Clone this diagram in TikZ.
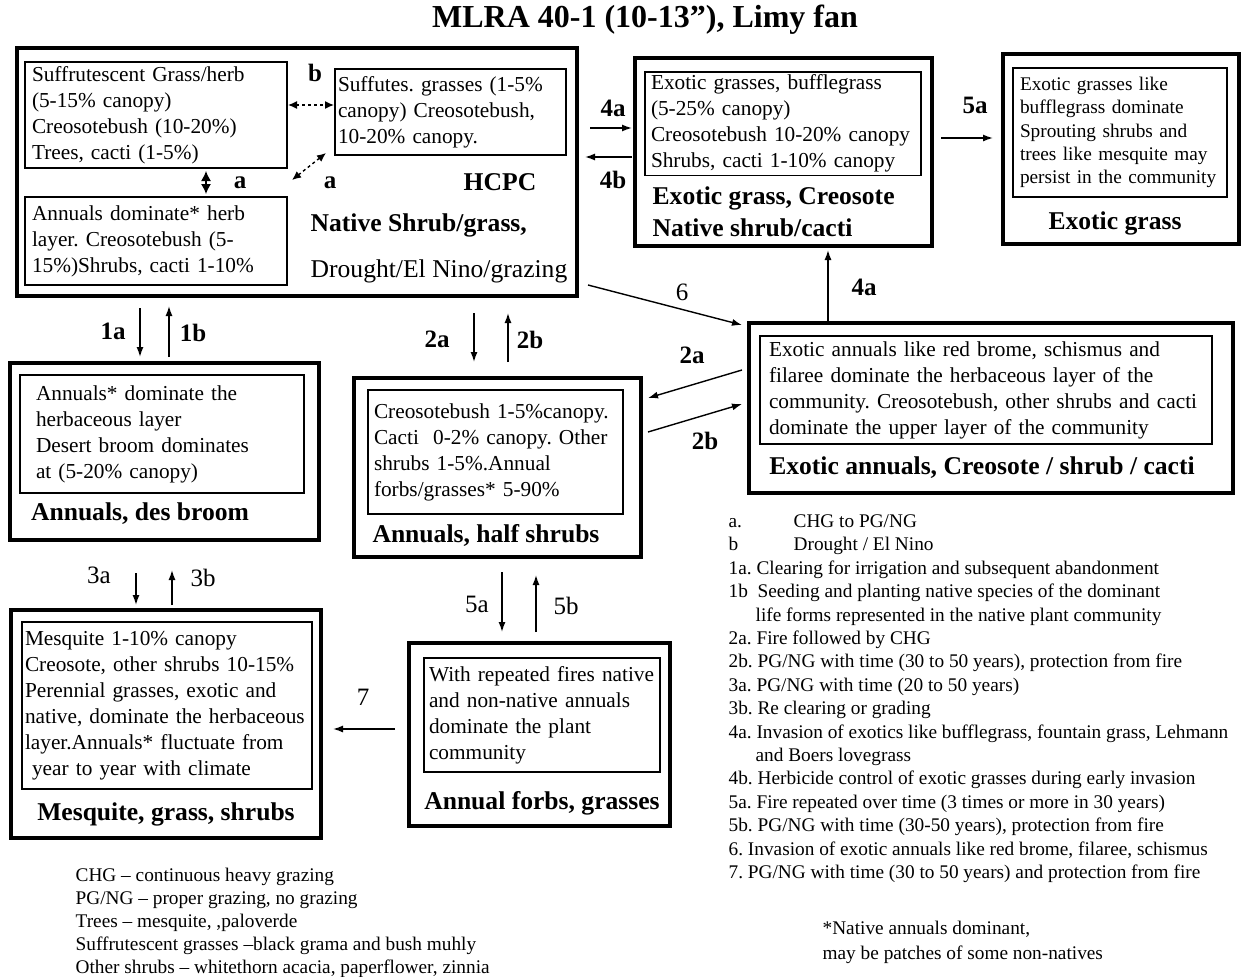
\documentclass[tikz,border=0pt]{standalone}
\usepackage{fontspec}
\setmainfont{Liberation Serif}
\usetikzlibrary{arrows.meta,calc}
\frenchspacing
\hyphenpenalty=10000
\exhyphenpenalty=10000

\newcommand{\bodyfont}{\fontsize{21.3}{26}\selectfont}
\newcommand{\legfont}{\fontsize{19.3}{23.4}\selectfont}
\newcommand{\boxtitle}{\fontsize{25.6}{32}\selectfont\bfseries}
\newcommand{\labfont}{\fontsize{25}{30}\selectfont}

\tikzset{every picture/.style={line width=1.3pt}}

\begin{document}
\begin{tikzpicture}[x=1pt,y=1pt,yscale=-1,xscale=1,
  outer/.style 2 args={draw, line width=3.5pt, minimum width=#1pt, minimum height=#2pt, inner sep=0pt, outer sep=0pt},
  inbox/.style 2 args={draw, line width=1.2pt, anchor=north west, align=left, inner xsep=6pt, inner ysep=3pt, outer sep=0pt, text width=#1pt, minimum height=#2pt, font=\bodyfont},
  arr/.style={-{Latex[length=10pt,width=7pt]}, line width=1.4pt},
  dasharr/.style={{Latex[length=9pt,width=8pt]}-{Latex[length=9pt,width=8pt]}, dash pattern=on 3pt off 3pt, line width=1.4pt},
  lab/.style={font=\labfont\bfseries, inner sep=0pt},
  labr/.style={font=\labfont, inner sep=0pt},
  boxname/.style={font=\boxtitle, inner sep=0pt}
]
\path[use as bounding box] (0,0) rectangle (1243,977);

% Title
\node[font=\fontsize{32}{38}\selectfont\bfseries, inner sep=0pt] (title) at (645,20) {MLRA 40-1 (10-13”), Limy fan};

%Shape: Rectangle -- HCPC
\node[outer={560}{248}] (hcpc) at (297,172) {};
\node[inbox={248}{106}, inner xsep=7pt] (inA) at (25,62) {Suffrutescent Grass/herb\\(5-15\% canopy)\\Creosotebush (10-20\%)\\Trees, cacti (1-5\%)};
\node[inbox={225}{86}, inner xsep=3pt] (inB) at (335,69) {Suffutes. grasses (1-5\%\\canopy) Creosotebush,\\10-20\% canopy.};
\node[inbox={248}{88}, inner xsep=7pt] (inC) at (25,197) {Annuals dominate* herb\\layer. Creosotebush (5-\\15\%)Shrubs, cacti 1-10\%};
\node[boxname] (hcpclab) at (500,182) {HCPC};
\node[boxname, anchor=west] (hcpcname) at (310,225) {Native Shrub/grass,};
\node[font=\fontsize{25.6}{30}\selectfont, inner sep=0pt, anchor=west] (hcpcdist) at (310,271) {Drought/El Nino/grazing};
% Text Node
\node[lab] (lb) at (315,73) {b};
\node[lab] (la1) at (240,183) {a};
\node[lab] (la2) at (330,183) {a};
%Straight Lines
\draw[dasharr] ($(inA.east)+(1,-10)$) -- ($(inA.east -| inB.west)+(-1,-10)$);
\draw[dasharr] ($(inB.south west)+(-9,-2)$) -- ($(inC.north east)+(5,-17)$);
\draw[{Latex[length=10pt,width=10pt]}-{Latex[length=10pt,width=10pt]}, shorten <=3pt, shorten >=3pt] (inA.south -| 206,0) -- (inC.north -| 206,0);

%Shape: Rectangle -- exotic grass, creosote
\node[outer={297}{188}] (exgrass) at (783.5,152) {};
\node[inbox={264}{98}] (inD) at (645,72) {Exotic grasses, bufflegrass\\(5-25\% canopy)\\Creosotebush 10-20\% canopy\\Shrubs, cacti 1-10\% canopy};
\node[boxname, anchor=west, align=left] (exgrassname) at (652,212) {Exotic grass, Creosote\\Native shrub/cacti};

%Shape: Rectangle -- exotic grass
\node[outer={236}{190}] (exotic) at (1121,149) {};
\node[inbox={200}{129}, inner xsep=7pt, font=\legfont] (inE) at (1013,68) {Exotic grasses like\\bufflegrass dominate\\Sprouting shrubs and\\trees like mesquite may\\persist in the community};
\node[boxname] (exoticname) at (1115,223) {Exotic grass};

%Shape: Rectangle -- exotic annuals
\node[outer={484}{170}] (exann) at (991,408) {};
\node[inbox={434}{108}, inner xsep=9pt] (inF) at (760,336) {Exotic annuals like red brome, schismus and\\filaree dominate the herbaceous layer of the\\community. Creosotebush, other shrubs and cacti\\dominate the upper layer of the community};
\node[boxname] (exannname) at (982,468) {Exotic annuals, Creosote / shrub / cacti};

%Shape: Rectangle -- annuals, des broom
\node[outer={309}{177}] (desbroom) at (164.5,451.5) {};
\node[inbox={252}{118}, inner xsep=16pt] (inG) at (20,375) {Annuals* dominate the\\herbaceous layer\\Desert broom dominates\\at (5-20\% canopy)};
\node[boxname] (desbroomname) at (140,514) {Annuals, des broom};

%Shape: Rectangle -- annuals, half shrubs
\node[outer={287}{179}] (halfshrub) at (497.5,467.5) {};
\node[inbox={243}{124}] (inH) at (368,390) {Creosotebush 1-5\%canopy.\\Cacti\ \ 0-2\% canopy. Other\\shrubs 1-5\%.Annual\\forbs/grasses* 5-90\%};
\node[boxname] (halfshrubname) at (486,535) {Annuals, half shrubs};

%Shape: Rectangle -- mesquite
\node[outer={310}{228}] (mesquite) at (166,724) {};
\node[inbox={284}{167}, inner xsep=3pt] (inI) at (22,622) {Mesquite 1-10\% canopy\\Creosote, other shrubs 10-15\%\\Perennial grasses, exotic and\\native, dominate the herbaceous\\layer.Annuals* fluctuate from\\\ year to year with climate};
\node[boxname] (mesquitename) at (166,814) {Mesquite, grass, shrubs};

%Shape: Rectangle -- annual forbs
\node[outer={261}{183}] (forbs) at (539.5,734.5) {};
\node[inbox={226}{114}, inner xsep=5pt] (inJ) at (424,658) {With repeated fires native\\and non-native annuals\\dominate the plant\\community};
\node[boxname] (forbsname) at (542,803) {Annual forbs, grasses};

%Straight Lines -- transitions
\draw[arr, shorten <=12pt, shorten >=6pt] (hcpc.south -| 140,0) -- (desbroom.north -| 140,0);
\draw[arr, shorten <=6pt, shorten >=10pt] (desbroom.north -| 169,0) -- (hcpc.south -| 169,0);
\draw[arr, shorten <=17pt, shorten >=16pt] (hcpc.south -| 474,0) -- (halfshrub.north -| 474,0);
\draw[arr, shorten <=16pt, shorten >=17pt] (halfshrub.north -| 508,0) -- (hcpc.south -| 508,0);
\draw[arr, shorten <=33pt, shorten >=5pt] (desbroom.south -| 136,0) -- (mesquite.north -| 136,0);
\draw[arr, shorten <=5pt, shorten >=30pt] (mesquite.north -| 172,0) -- (desbroom.south -| 172,0);
\draw[arr, shorten <=15pt, shorten >=11pt] (halfshrub.south -| 502,0) -- (forbs.north -| 502,0);
\draw[arr, shorten <=11pt, shorten >=18pt] (forbs.north -| 536,0) -- (halfshrub.south -| 536,0);
\draw[arr, shorten <=14pt, shorten >=12pt] (forbs.west |- 0,729) -- (mesquite.east |- 0,729);
\draw[arr, shorten <=13pt, shorten >=3pt] (hcpc.east |- 0,128) -- (exgrass.west |- 0,128);
\draw[arr, shorten <=3pt, shorten >=8pt] (exgrass.west |- 0,157) -- (hcpc.east |- 0,157);
\draw[arr, shorten <=9pt, shorten >=10pt] (exgrass.east |- 0,138) -- (exotic.west |- 0,138);
\draw[arr, shorten >=4pt] (exann.north -| 828,0) -- (exgrass.south -| 828,0);
\draw[arr] ($(hcpc.south east)+(11,-11)$) -- ($(exann.north west)+(-7,2)$);
\draw[arr] ($(exann.west)+(-7,-38)$) -- ($(halfshrub.north east)+(7,20)$);
\draw[arr] ($(halfshrub.north east)+(7,54)$) -- ($(exann.west)+(-7,-4)$);

% Text Node -- transition labels
\node[lab] (l1a) at (113,331) {1a};
\node[lab] (l1b) at (193,333) {1b};
\node[lab] (l2a) at (437,339) {2a};
\node[lab] (l2b) at (530,340) {2b};
\node[labr] (l3a) at (99,575) {3a};
\node[labr] (l3b) at (203,578) {3b};
\node[labr] (l5a) at (477,604) {5a};
\node[labr] (l5b) at (566,606) {5b};
\node[labr] (l7) at (363,697) {7};
\node[lab] (l4a) at (613,108) {4a};
\node[lab] (l4b) at (613,180) {4b};
\node[lab] (l5ah) at (975,105) {5a};
\node[lab] (l4av) at (864,287) {4a};
\node[labr] (l6) at (682,292) {6};
\node[lab] (l2ad) at (692,355) {2a};
\node[lab] (l2bd) at (705,441) {2b};

% Text Node -- keys
\node[anchor=north west, inner sep=0pt, align=left, font=\legfont] (keyr) at (728,514) {\makebox[65pt][l]{a.}CHG to PG/NG\\\makebox[65pt][l]{b}Drought / El Nino\\1a. Clearing for irrigation and subsequent abandonment\\1b\ \ Seeding and planting native species of the dominant\\\hspace*{27pt}life forms represented in the native plant community\\2a. Fire followed by CHG\\2b. PG/NG with time (30 to 50 years), protection from fire\\3a. PG/NG with time (20 to 50 years)\\3b. Re clearing or grading\\4a. Invasion of exotics like bufflegrass, fountain grass, Lehmann\\\hspace*{27pt}and Boers lovegrass\\4b. Herbicide control of exotic grasses during early invasion\\5a. Fire repeated over time (3 times or more in 30 years)\\5b. PG/NG with time (30-50 years), protection from fire\\6. Invasion of exotic annuals like red brome, filaree, schismus\\7. PG/NG with time (30 to 50 years) and protection from fire};
\node[anchor=north west, inner sep=0pt, align=left, font=\fontsize{19.3}{23.2}\selectfont] (keyl) at (75,867) {CHG – continuous heavy grazing\\PG/NG – proper grazing, no grazing\\Trees – mesquite, ,paloverde\\Suffrutescent grasses –black grama and bush muhly\\Other shrubs – whitethorn acacia, paperflower, zinnia};
\node[anchor=north west, inner sep=0pt, align=left, font=\fontsize{19.3}{25}\selectfont] (note) at (822,920) {*Native annuals dominant,\\may be patches of some non-natives};

\end{tikzpicture}
\end{document}
